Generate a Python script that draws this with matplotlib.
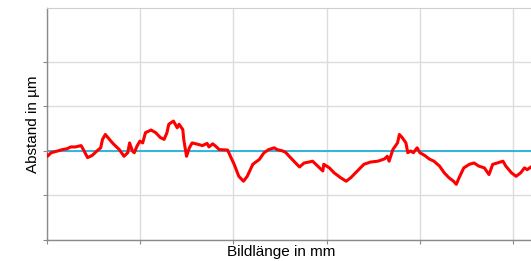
import matplotlib
matplotlib.use("Agg")
import matplotlib.pyplot as plt

# Profile data (x in grid units along image length, y deviation in grid units)
pos_mm = [0.00, 0.01, 0.05, 0.12, 0.17, 0.22, 0.26, 0.31, 0.37, 0.39, 0.44, 0.49, 0.54, 0.58,
          0.60, 0.63, 0.69, 0.72, 0.78, 0.83, 0.87, 0.89, 0.92, 0.94, 0.97, 1.00, 1.03,
          1.06, 1.12, 1.17, 1.22, 1.26, 1.29, 1.31, 1.36, 1.40, 1.42, 1.46, 1.47, 1.50,
          1.53, 1.56, 1.62, 1.67, 1.72, 1.74, 1.78, 1.81, 1.85, 1.94, 1.97, 2.01, 2.06,
          2.11, 2.15, 2.21, 2.28, 2.33, 2.38, 2.44, 2.47, 2.53, 2.56, 2.60, 2.65, 2.71,
          2.76, 2.81, 2.85, 2.90, 2.96, 2.97, 3.03, 3.08, 3.15, 3.21, 3.26, 3.33, 3.40,
          3.47, 3.55, 3.62, 3.65, 3.67, 3.71, 3.76, 3.78, 3.81, 3.85, 3.87, 3.90, 3.93,
          3.97, 4.00, 4.05, 4.10, 4.15, 4.21, 4.26, 4.31, 4.36, 4.39, 4.42, 4.47, 4.53,
          4.58, 4.63, 4.69, 4.74, 4.78, 4.83, 4.89, 4.92, 4.98, 5.03, 5.08, 5.12, 5.15, 5.19]
abstand = [-0.08, -0.12, -0.04, 0.00, 0.03, 0.05, 0.09, 0.09, 0.12, 0.05, -0.15, -0.10, 0.00, 0.07,
           0.26, 0.37, 0.22, 0.15, 0.03, -0.12, -0.04, 0.18, 0.00, -0.04, 0.11, 0.22, 0.18,
           0.41, 0.47, 0.41, 0.30, 0.26, 0.41, 0.60, 0.67, 0.52, 0.60, 0.48, 0.26, -0.12,
           0.07, 0.18, 0.15, 0.12, 0.17, 0.09, 0.16, 0.11, 0.03, 0.02, -0.12, -0.30, -0.57,
           -0.68, -0.57, -0.30, -0.19, -0.04, 0.03, 0.07, 0.03, 0.00, -0.03, -0.12, -0.23, -0.36,
           -0.27, -0.25, -0.23, -0.33, -0.45, -0.30, -0.38, -0.49, -0.60, -0.68, -0.60, -0.45, -0.30,
           -0.25, -0.23, -0.18, -0.12, -0.23, 0.03, 0.18, 0.37, 0.30, 0.18, -0.04, 0.00, -0.04,
           0.07, -0.04, -0.10, -0.18, -0.23, -0.34, -0.49, -0.60, -0.68, -0.75, -0.60, -0.38, -0.30,
           -0.27, -0.34, -0.38, -0.53, -0.30, -0.27, -0.23, -0.34, -0.49, -0.57, -0.49, -0.38, -0.42, -0.36]
reference_level = 0.0
x_ticks = [0, 1, 2, 3, 4, 5]
y_ticks = [-2, -1, 0, 1, 2]
x_label = "Bildlänge in mm"
y_label = "Abstand in µm"

plt.rcParams['font.family'] = ['Liberation Sans', 'DejaVu Sans']

fig = plt.figure(figsize=(5.31, 2.61), dpi=100)
ax = fig.add_axes([0.0876, 0.0805, 0.9124, 0.8888])

ax.set_xlim(0, 5.19)
ax.set_ylim(-2, 3.21)
ax.set_xticks(x_ticks)
ax.set_yticks(y_ticks)
ax.set_xticklabels([])
ax.set_yticklabels([])
ax.grid(True, color='#dcdcdc', linewidth=1.0)
ax.set_axisbelow(True)

ax.axhline(reference_level, color='#22b0dc', linewidth=1.3, zorder=2)
ax.plot(pos_mm, abstand, color='#ff0000', linewidth=2.2, zorder=3, solid_joinstyle='round')

for side in ['left', 'bottom']:
    ax.spines[side].set_color('#8a8a8a')
    ax.spines[side].set_linewidth(1.0)
ax.spines['top'].set_color('#cfcfcf')
ax.spines['right'].set_visible(False)
ax.tick_params(axis='both', length=3, width=0.8, color='#8a8a8a')

ax.set_xlabel(x_label, fontsize=11)
ax.set_ylabel(y_label, fontsize=11)
ax.xaxis.set_label_coords(0.485, -0.02)
ax.yaxis.set_label_coords(-0.013, 0.5)

fig.savefig("out.png", dpi=100)
